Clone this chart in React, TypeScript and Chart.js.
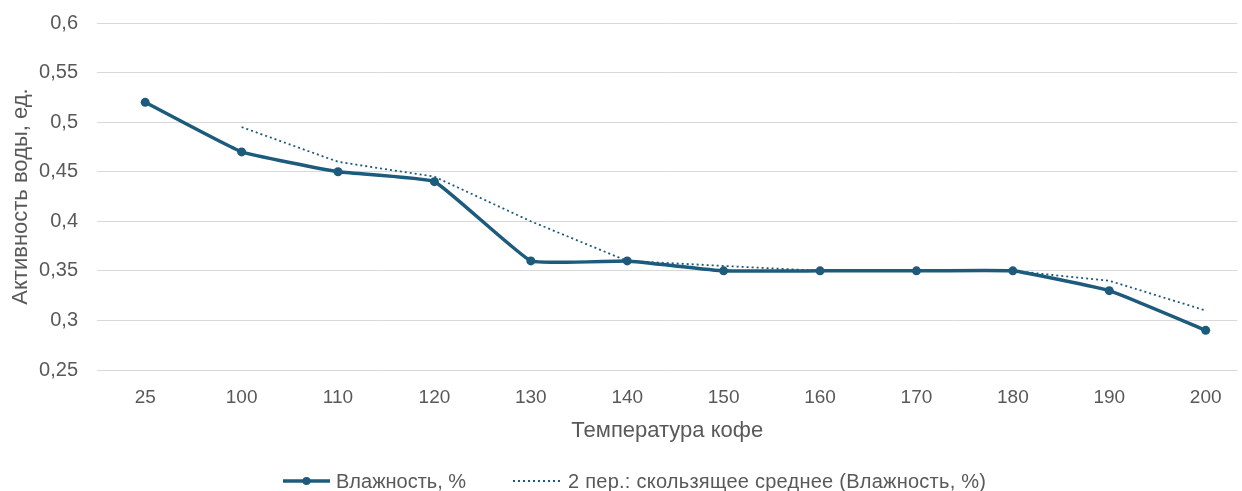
import React, { useEffect, useRef } from "react";
import { Chart, registerables } from "chart.js";

Chart.register(...registerables);

const categories = ["25", "100", "110", "120", "130", "140", "150", "160", "170", "180", "190", "200"];
const humidity = [0.52, 0.47, 0.45, 0.44, 0.36, 0.36, 0.35, 0.35, 0.35, 0.35, 0.33, 0.29];
const movingAverage = [null, 0.495, 0.46, 0.445, 0.4, 0.36, 0.355, 0.35, 0.35, 0.35, 0.34, 0.31];
const yTicks = [0.25, 0.3, 0.35, 0.4, 0.45, 0.5, 0.55, 0.6];
const seriesNames = ["Влажность, %", "2 пер.: скользящее среднее (Влажность, %)"];
const xTitle = "Температура кофе";
const yTitle = "Активность воды, ед.";

const LINE = "#1C5B7B";
const TEXT = "#595959";
const FONT = "'Liberation Sans', Arial, sans-serif";

export default function App() {
  const ref = useRef<HTMLCanvasElement | null>(null);

  useEffect(() => {
    document.body.style.margin = "0";
    const ctx = ref.current;
    if (!ctx) return;
    const chart = new Chart(ctx, {
      type: "line",
      data: {
        datasets: [
          {
            label: seriesNames[0],
            data: humidity.map((y, i) => ({ x: i, y })),
            borderColor: LINE,
            backgroundColor: LINE,
            borderWidth: 3.5,
            pointRadius: 4.5,
            pointBorderWidth: 0,
            pointBackgroundColor: LINE,
            tension: 0.1,
          },
          {
            label: seriesNames[1],
            data: movingAverage
              .map((y, i) => ({ x: i, y }))
              .filter((p) => p.y !== null) as any,
            borderColor: LINE,
            borderWidth: 1.8,
            borderDash: [2, 3],
            pointRadius: 0,
            tension: 0,
          },
        ],
      },
      options: {
        animation: false,
        responsive: false,
        maintainAspectRatio: false,
        layout: { padding: { top: 23, right: 0, bottom: 47, left: 0 } },
        plugins: {
          legend: { display: false },
          tooltip: { enabled: false },
        },
        scales: {
          x: {
            type: "linear",
            min: -0.5,
            max: 11.33,
            afterBuildTicks: (axis: any) => {
              axis.ticks = categories.map((_, i) => ({ value: i }));
            },
            afterFit: (axis: any) => {
              axis.height = 74;
            },
            grid: { display: false, drawTicks: false },
            border: { display: false },
            ticks: {
              padding: 16,
              color: TEXT,
              font: { family: FONT, size: 19 },
              callback: (v: any) => categories[v] ?? "",
              maxRotation: 0,
              autoSkip: false,
            },
            title: {
              display: true,
              text: xTitle,
              color: TEXT,
              font: { family: FONT, size: 22 },
              padding: { top: 0, bottom: 0 },
            },
          },
          y: {
            min: 0.25,
            max: 0.6,
            afterBuildTicks: (axis: any) => {
              axis.ticks = yTicks.map((v) => ({ value: v }));
            },
            afterFit: (axis: any) => {
              axis.width = 97;
              axis.paddingTop = 0;
              axis.paddingBottom = 0;
            },
            grid: { color: "#D9D9D9", lineWidth: 1, drawTicks: false },
            border: { display: false },
            ticks: {
              padding: 19,
              color: TEXT,
              font: { family: FONT, size: 20 },
              callback: (v: any) => String(Number(Number(v).toFixed(2))).replace(".", ","),
            },
            title: {
              display: true,
              text: yTitle,
              color: TEXT,
              font: { family: FONT, size: 22 },
              padding: { top: 8, bottom: 0 },
            },
          },
        },
      },
    });
    return () => chart.destroy();
  }, []);

  const legendText: React.CSSProperties = {
    fontFamily: FONT,
    fontSize: 20,
    color: TEXT,
    whiteSpace: "nowrap",
    lineHeight: "22px",
  };

  return (
    <div style={{ position: "relative", width: 1242, height: 491, background: "#fff" }}>
      <canvas ref={ref} width={1242} height={491} style={{ display: "block" }} />
      <div style={{ position: "absolute", left: 283, top: 470, display: "flex", alignItems: "center" }}>
        <svg width={47} height={12} style={{ display: "block" }}>
          <line x1={0} y1={6} x2={47} y2={6} stroke={LINE} strokeWidth={3.5} />
          <circle cx={23.5} cy={6} r={4} fill={LINE} />
        </svg>
        <span style={{ ...legendText, marginLeft: 6 }}>{seriesNames[0]}</span>
      </div>
      <div style={{ position: "absolute", left: 513, top: 470, display: "flex", alignItems: "center" }}>
        <svg width={49} height={12} style={{ display: "block" }}>
          <line x1={0} y1={6} x2={49} y2={6} stroke={LINE} strokeWidth={1.8} strokeDasharray="2 3" />
        </svg>
        <span style={{ ...legendText, marginLeft: 6, letterSpacing: 0.25 }}>{seriesNames[1]}</span>
      </div>
    </div>
  );
}
